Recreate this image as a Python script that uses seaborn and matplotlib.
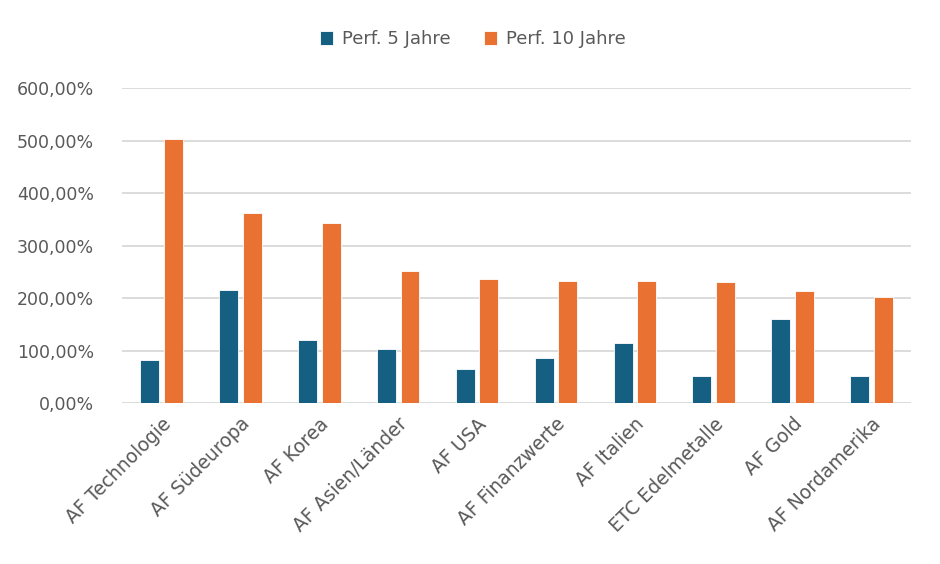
import pandas as pd
import numpy as np
import matplotlib.pyplot as plt
import seaborn as sns
from matplotlib.ticker import FuncFormatter, MultipleLocator

fonds = ['AF Technologie', 'AF Südeuropa', 'AF Korea', 'AF Asien/Länder', 'AF USA',
         'AF Finanzwerte', 'AF Italien', 'ETC Edelmetalle', 'AF Gold', 'AF Nordamerika']
perf_5j = [82.5, 215.0, 120.0, 103.0, 65.0, 86.0, 114.0, 52.5, 160.0, 52.0]
perf_10j = [503.5, 362.5, 344.0, 252.0, 236.0, 233.5, 232.0, 230.5, 213.0, 202.5]
serien = ['Perf. 5 Jahre', 'Perf. 10 Jahre']
farben = ['#156082', '#E97132']

df = pd.DataFrame({
    'fonds': fonds * 2,
    'wert': perf_5j + perf_10j,
    'serie': [serien[0]] * len(fonds) + [serien[1]] * len(fonds),
})

sns.set_style('white')
plt.rcParams['font.family'] = ['DejaVu Sans']
text_col = '#595959'

fig = plt.figure(figsize=(9.4, 5.64), dpi=100)
ax = fig.add_axes([0.1298, 0.2849, 0.8394, 0.5591])

sns.barplot(data=df, x='fonds', y='wert', hue='serie', palette=farben, saturation=1,
            width=0.6, gap=0.2, edgecolor='white', linewidth=0.6, ax=ax)

ax.set_ylim(0, 600)
ax.set_xlim(-0.5, len(fonds) - 0.5)
ax.yaxis.set_major_locator(MultipleLocator(100))
ax.yaxis.set_major_formatter(FuncFormatter(lambda v, p: f"{v:.2f}".replace('.', ',') + '%'))
ax.grid(True, axis='y', color='#D9D9D9', linewidth=1.3)
ax.set_axisbelow(True)
for s in ax.spines.values():
    s.set_visible(False)
ax.set_xlabel('')
ax.set_ylabel('')
ax.tick_params(axis='both', length=0, colors=text_col)
ax.tick_params(axis='y', pad=20, labelsize=12.5)
ax.tick_params(axis='x', pad=8, labelsize=13.5)
plt.setp(ax.get_xticklabels(), rotation=45, ha='right', rotation_mode='anchor')

handles, labels = ax.get_legend_handles_labels()
ax.get_legend().remove()
leg = fig.legend(handles, labels, loc='upper center', bbox_to_anchor=(0.503, 0.975),
                 ncol=2, frameon=False, fontsize=13, handlelength=0.75,
                 handleheight=0.75, handletextpad=0.5, columnspacing=1.8)
for t in leg.get_texts():
    t.set_color(text_col)

fig.savefig('out.png', dpi=100)
